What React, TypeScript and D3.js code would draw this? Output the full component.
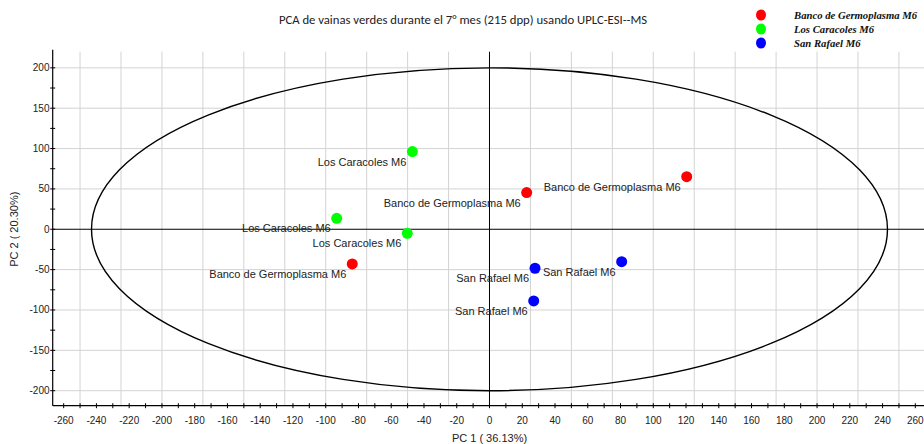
import React from 'react'
import { scaleLinear, range } from 'd3'

// PCA scores
const groups = ['Banco de Germoplasma M6', 'Los Caracoles M6', 'San Rafael M6']
const groupColors = ['#ff0000', '#00ff00', '#0000ff']
const sampleGroup = [0, 0, 0, 1, 1, 1, 2, 2, 2]
const pc1 = [120.4, 22.7, -83.8, -47.1, -93.3, -50.2, 27.8, 80.7, 27.0]
const pc2 = [65.2, 45.4, -43.0, 96.2, 13.6, -5.0, -48.3, -40.1, -88.8]

// Hotelling T2 ellipse half-axes
const ellipseT2 = [243, 200]

const xLabelTicks = range(-260, 261, 20)
const xMinorTicks = range(-260, 261, 10)
const xGrid = range(-250, 251, 25).filter(v => v !== 0)
const yLabelTicks = range(-200, 201, 50)
const yMinorTicks = range(-200, 201, 25)
const yGrid = range(-200, 201, 50).filter(v => v !== 0)

const title = 'PCA de vainas verdes durante el 7° mes (215 dpp) usando UPLC-ESI--MS'
const xTitle = 'PC 1 ( 36.13%)'
const yTitle = 'PC 2 ( 20.30%)'

const W = 924
const H = 444
const left = 52.7
const top = 51.7
const bottom = 405.7

const x = scaleLinear().domain([-266.7, 265.3]).range([left, W])
const y = scaleLinear().domain([-218.6, 220]).range([bottom, top])

const sans = 'Arial, "Liberation Sans", sans-serif'

const App = () => {
    return (
        <svg width={W} height={H} style={{ position: 'absolute', left: 0, top: 0, background: '#fff' }}>
            {/* grid */}
            {xGrid.map(v => (
                <line key={'gx' + v} x1={x(v)} x2={x(v)} y1={top} y2={bottom} stroke="#d3d3d3" strokeWidth={1} />
            ))}
            {yGrid.map(v => (
                <line key={'gy' + v} x1={left} x2={W} y1={y(v)} y2={y(v)} stroke="#d3d3d3" strokeWidth={1} />
            ))}

            {/* zero lines */}
            <line x1={x(0)} x2={x(0)} y1={top} y2={bottom} stroke="#000" strokeWidth={1} />
            <line x1={left} x2={W} y1={y(0)} y2={y(0)} stroke="#000" strokeWidth={1} />

            {/* T2 ellipse */}
            <ellipse cx={x(0)} cy={y(0)} rx={x(ellipseT2[0]) - x(0)} ry={y(0) - y(ellipseT2[1])}
                fill="none" stroke="#000" strokeWidth={1.4} />

            {/* axes */}
            <line x1={left} x2={left} y1={top - 2} y2={bottom} stroke="#000" strokeWidth={1.2} />
            <line x1={left} x2={W} y1={bottom} y2={bottom} stroke="#000" strokeWidth={1.2} />
            {xMinorTicks.map(v => (
                <line key={'tx' + v} x1={x(v)} x2={x(v)} y1={bottom - 2.5} y2={bottom + 2.5} stroke="#000" strokeWidth={1} />
            ))}
            {yMinorTicks.map(v => (
                <line key={'ty' + v} x1={left - 2.5} x2={left + 2.5} y1={y(v)} y2={y(v)} stroke="#000" strokeWidth={1} />
            ))}
            {xLabelTicks.map(v => (
                <text key={'lx' + v} x={x(v)} y={420} textAnchor="middle" dominantBaseline="central"
                    fontFamily={sans} fontSize={10} fill="#222">{v}</text>
            ))}
            {yLabelTicks.map(v => (
                <text key={'ly' + v} x={49.5} y={y(v)} textAnchor="end" dominantBaseline="central"
                    fontFamily={sans} fontSize={10} fill="#222">{v}</text>
            ))}
            <text x={x(0)} y={438} textAnchor="middle" dominantBaseline="central"
                fontFamily={sans} fontSize={11} fill="#222">{xTitle}</text>
            <text transform={`translate(14, ${y(0)}) rotate(-90)`} textAnchor="middle" dominantBaseline="central"
                fontFamily={sans} fontSize={11} fill="#222">{yTitle}</text>

            {/* points + labels */}
            {pc1.map((v, i) => (
                <g key={'p' + i}>
                    <text x={x(v) - 6} y={y(pc2[i]) + 10} textAnchor="end" dominantBaseline="central"
                        fontFamily={sans} fontSize={11} fill="#222">{groups[sampleGroup[i]]}</text>
                    <circle cx={x(v)} cy={y(pc2[i])} r={5.5} fill={groupColors[sampleGroup[i]]} />
                </g>
            ))}

            {/* title */}
            <text x={463} y={19} textAnchor="middle" dominantBaseline="central"
                fontFamily='Carlito, Lato, "Open Sans", sans-serif' fontSize={12.7} fill="#222">{title}</text>

            {/* legend */}
            {groups.map((g, i) => (
                <g key={'lg' + i}>
                    <ellipse cx={761} cy={15 + i * 14} rx={5} ry={5.5} fill={groupColors[i]} />
                    <text x={794} y={15 + i * 14} dominantBaseline="central"
                        fontFamily='"Liberation Serif", "Times New Roman", serif' fontStyle="italic" fontWeight="bold"
                        fontSize={10.7} fill="#111">{g}</text>
                </g>
            ))}
        </svg>
    )
}

export default App
